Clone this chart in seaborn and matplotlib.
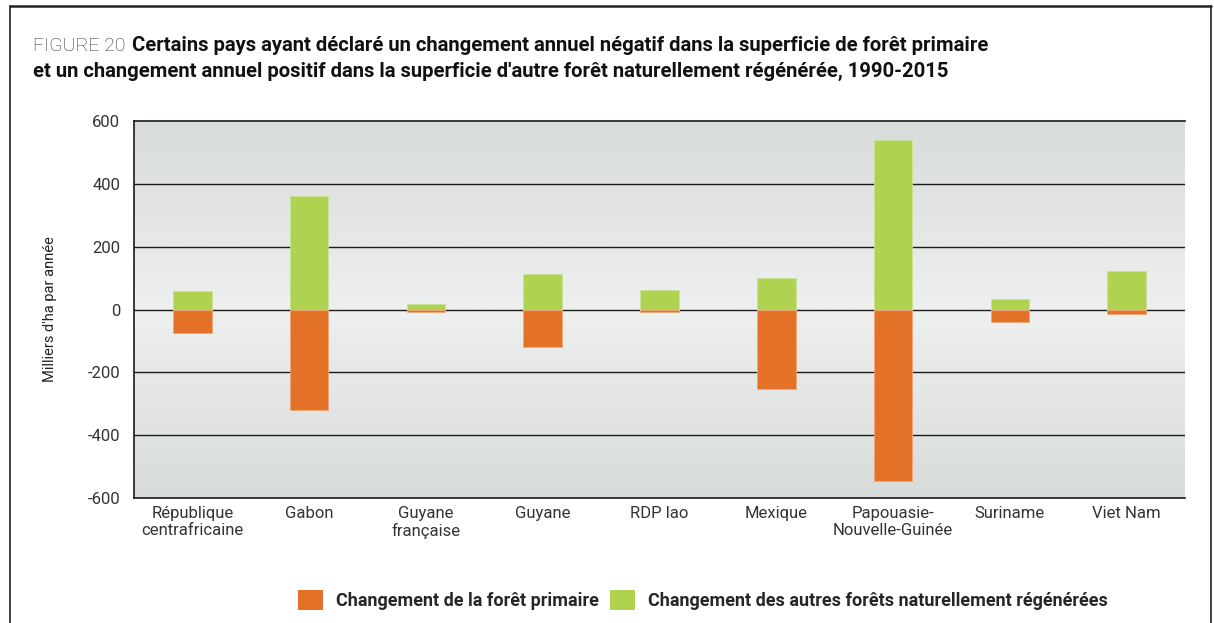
import numpy as np
import pandas as pd
import matplotlib.pyplot as plt
import seaborn as sns
from matplotlib.patches import Patch
from matplotlib.lines import Line2D

# data (thousand ha per year)
countries = ['République\ncentrafricaine', 'Gabon', 'Guyane\nfrançaise', 'Guyane', 'RDP lao',
             'Mexique', 'Papouasie-\nNouvelle-Guinée', 'Suriname', 'Viet Nam']
primary = [-76, -321, -9, -118, -8, -253, -546, -39, -13]
other_regen = [60, 362, 16, 113, 63, 101, 540, 34, 122]
yticks = [-600, -400, -200, 0, 200, 400, 600]

orange = '#e37228'
green = '#afd250'

sns.set_theme(style='white')
plt.rcParams['font.family'] = ['Roboto', 'DejaVu Sans']

df = pd.DataFrame({'Pays': countries, 'Primaire': primary, 'Autre': other_regen})

fig = plt.figure(figsize=(12.14, 6.23), dpi=100)
ax = fig.add_axes([0.1104, 0.2006, 0.8657, 0.6052])

# gradient background: darker at top/bottom, light in the middle
grad = np.abs(np.linspace(-1, 1, 256)).reshape(-1, 1)
ax.imshow(grad, cmap=sns.blend_palette(['#eef0ef', '#d7dbd9'], as_cmap=True),
          aspect='auto', extent=[-0.5, 8.5, -600, 600], zorder=0)

sns.barplot(data=df, x='Pays', y='Autre', color=green, width=0.33, saturation=1,
            edgecolor='#c9e39a', linewidth=0.6, ax=ax, zorder=3)
sns.barplot(data=df, x='Pays', y='Primaire', color=orange, width=0.33, saturation=1,
            edgecolor='#f0a878', linewidth=0.6, ax=ax, zorder=3)

for y in [-400, -200, 0, 200, 400]:
    ax.axhline(y, color='#1a1a1a', lw=1.0, zorder=2)

ax.set_xlim(-0.5, 8.5)
ax.set_ylim(-600, 600)
ax.set_yticks(yticks)
ax.set_yticklabels([str(v) for v in yticks], fontsize=12, color='#333333')
ax.tick_params(axis='both', length=0, pad=10)
ax.tick_params(axis='x', pad=6)
for lab in ax.get_xticklabels():
    lab.set_fontsize(12)
    lab.set_color('#333333')
    lab.set_linespacing(1.1)
ax.set_xlabel('')
ax.set_ylabel("Milliers d'ha par année", fontsize=10.5, color='#222222', labelpad=22)

for s in ['top', 'bottom', 'left']:
    ax.spines[s].set_color('#1a1a1a')
    ax.spines[s].set_linewidth(1.2)
ax.spines['right'].set_visible(False)

# title
t1 = fig.text(0.027, 0.918, 'FIGURE 20', fontsize=14, color='#333333', fontweight='light')
fig.canvas.draw()
bb = t1.get_window_extent()
x_bold = (bb.x1 + 7) / fig.bbox.width
fig.text(x_bold, 0.918, 'Certains pays ayant déclaré un changement annuel négatif dans la superficie de forêt primaire',
         fontsize=14.6, fontweight='bold', color='#111111')
fig.text(0.027, 0.877, "et un changement annuel positif dans la superficie d'autre forêt naturellement régénérée, 1990-2015",
         fontsize=14.6, fontweight='bold', color='#111111')

# legend
handles = [Patch(facecolor=orange, edgecolor='none'), Patch(facecolor=green, edgecolor='none')]
leg = fig.legend(handles, ['Changement de la forêt primaire',
                           'Changement des autres forêts naturellement régénérées'],
                 loc='center', bbox_to_anchor=(0.579, 0.037), ncol=2, frameon=False,
                 prop={'weight': 'bold', 'size': 13}, handlelength=1.4, handleheight=1.4,
                 columnspacing=0.6, handletextpad=0.7)

# outer frame
fig.add_artist(Line2D([0.0082, 0.0082], [0, 0.99], color='#222222', lw=1.2, transform=fig.transFigure))
fig.add_artist(Line2D([0.0082, 0.9975], [0.99, 0.99], color='#222222', lw=1.8, transform=fig.transFigure))
fig.add_artist(Line2D([0.9975, 0.9975], [0, 0.99], color='#222222', lw=1.2, transform=fig.transFigure))

fig.savefig('out.png', dpi=100)
